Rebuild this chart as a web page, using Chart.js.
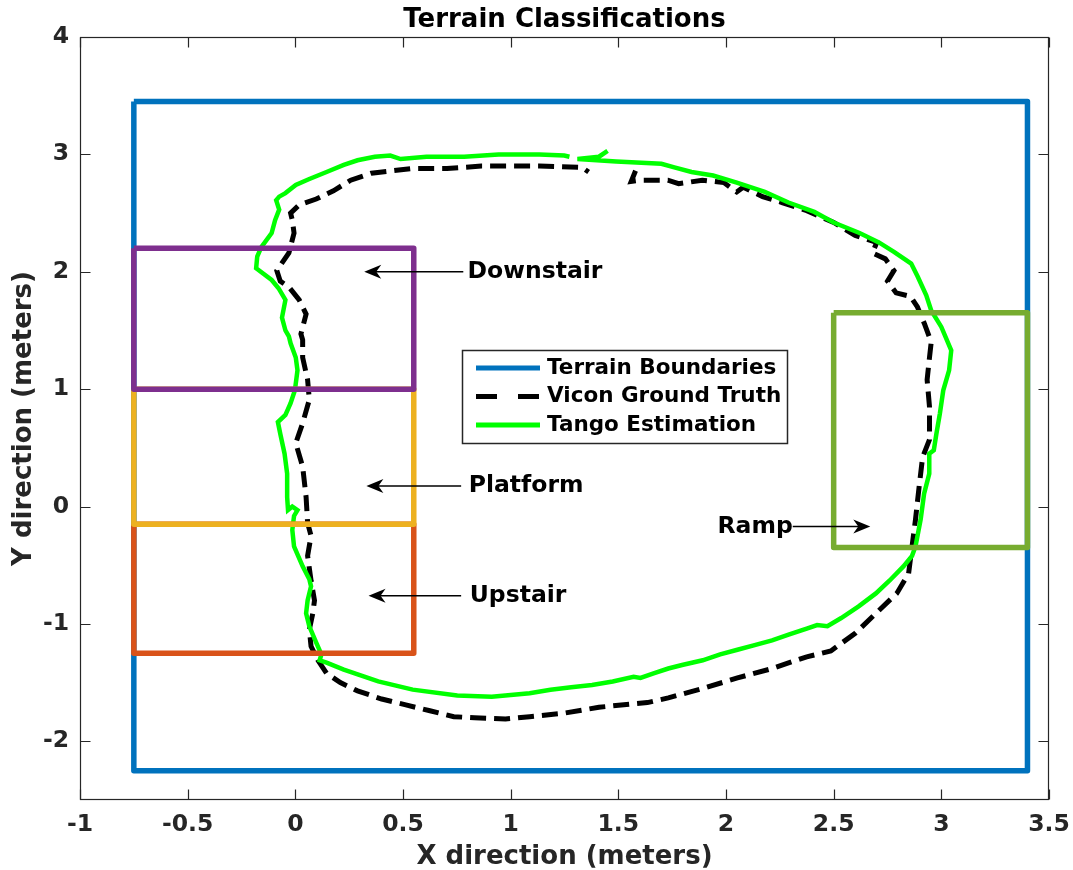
<!DOCTYPE html>
<html>
<head>
<meta charset="utf-8">
<title>Terrain Classifications</title>
<script src="https://cdn.jsdelivr.net/npm/chart.js@4.4.0/dist/chart.umd.min.js"></script>
<style>
  html, body { margin: 0; padding: 0; background: #fff; }
  #wrap { width: 1073px; height: 870px; }
</style>
</head>
<body>
<div id="wrap"><canvas id="terrainChart" width="1073" height="870"></canvas></div>
<script>
// —— axis ticks ——
const xTicks = [-1, -0.5, 0, 0.5, 1, 1.5, 2, 2.5, 3, 3.5];
const yTicks = [-2, -1, 0, 1, 2, 3, 4];

// —— terrain boxes: [xMin, xMax, yMin, yMax] in meters ——
const boundaryBox  = [-0.75, 3.4, -2.25, 3.45];
const downstairBox = [-0.75, 0.55, 1.0, 2.2];
const platformBox  = [-0.75, 0.55, -0.15, 1.0];
const upstairBox   = [-0.75, 0.55, -1.25, -0.15];
const rampBox      = [2.5, 3.4, -0.35, 1.65];

// —— Tango estimation ——
const tangoX = [1.45, 1.41, 1.31, 1.49, 1.70, 1.76, 1.84, 1.94, 2.05, 2.18, 2.29, 2.41, 2.50, 2.62, 2.71, 2.78, 2.86, 2.89, 2.93,
  2.953, 3.00, 3.046, 3.036, 3.009, 2.993, 2.977, 2.965, 2.944, 2.944, 2.92, 2.904, 2.88, 2.864, 2.824, 2.76, 2.696, 2.616, 2.535,
  2.471, 2.423, 2.375, 2.294, 2.214, 2.133, 2.053, 1.973, 1.892, 1.796, 1.732, 1.667, 1.603, 1.571, 1.474, 1.378, 1.281, 1.185,
  1.088, 0.912, 0.752, 0.545, 0.385, 0.225, 0.145, 0.113, 0.121, 0.097, 0.065, 0.05, 0.057, 0.073, 0.065, 0.034, -0.006, -0.014,
  -0.006, 0.010, -0.014, -0.034, -0.038, -0.038, -0.050, -0.070, -0.081, -0.046, -0.022, -0.002, 0.010, 0.002, -0.022, -0.030,
  -0.046, -0.062, -0.046, -0.078, -0.110, -0.182, -0.177, -0.158, -0.110, -0.094, -0.075, -0.089, -0.075, -0.046, 0.002, 0.065,
  0.145, 0.225, 0.289, 0.369, 0.441, 0.489, 0.609, 0.784, 0.944, 1.133, 1.249, 1.273];
const tangoY = [3.03, 2.98, 2.96, 2.94, 2.92, 2.89, 2.85, 2.82, 2.76, 2.68, 2.59, 2.51, 2.42, 2.33, 2.25, 2.17, 2.07, 1.96, 1.80,
  1.67, 1.53, 1.33, 1.16, 0.99, 0.79, 0.62, 0.48, 0.45, 0.28, 0.11, -0.11, -0.34, -0.42, -0.51, -0.63, -0.74, -0.85, -0.95,
  -1.02, -1.01, -1.04, -1.09, -1.14, -1.18, -1.22, -1.26, -1.31, -1.35, -1.38, -1.42, -1.46, -1.45, -1.49, -1.52, -1.54, -1.56,
  -1.59, -1.62, -1.61, -1.56, -1.49, -1.39, -1.33, -1.31, -1.26, -1.16, -1.02, -0.91, -0.80, -0.68, -0.62, -0.51, -0.34, -0.20,
  -0.08, -0.03, 0.00, -0.03, 0.08, 0.28, 0.45, 0.62, 0.72, 0.78, 0.88, 0.99, 1.16, 1.27, 1.39, 1.45,
  1.50, 1.61, 1.76, 1.86, 1.93, 2.03, 2.13, 2.21, 2.33, 2.44, 2.53, 2.61, 2.64, 2.67, 2.74, 2.79,
  2.85, 2.91, 2.95, 2.98, 2.99, 2.96, 2.98, 2.98, 3.00, 3.00, 2.99, 2.98];

// —— Vicon ground truth ——
const viconX = [1.58, 1.56, 1.60, 1.73, 1.78, 1.89, 1.99, 2.05, 2.08, 2.17, 2.26, 2.375, 2.50, 2.60, 2.70, 2.68, 2.74, 2.78, 2.75,
  2.79, 2.857, 2.889, 2.921, 2.953, 2.945, 2.934, 2.945, 2.945, 2.913, 2.897, 2.88, 2.864, 2.848, 2.793, 2.696, 2.60, 2.487,
  2.375, 2.214, 2.053, 1.892, 1.732, 1.635, 1.571, 1.41, 1.249, 1.088, 0.976, 0.832, 0.736, 0.625, 0.513, 0.401, 0.289, 0.209,
  0.145, 0.105, 0.073, 0.065, 0.081, 0.089, 0.073, 0.057, 0.073, 0.057, 0.050, 0.034, 0.002, 0.034, 0.065, 0.057, 0.034, 0.034,
  0.026, 0.050, 0.018, -0.030, -0.070, -0.086, -0.030, -0.006, -0.014, -0.022, 0.018, 0.097, 0.177, 0.257, 0.353, 0.449, 0.545,
  0.704, 0.864, 1.133, 1.33, 1.362];
const viconY = [2.86, 2.77, 2.78, 2.78, 2.75, 2.78, 2.76, 2.68, 2.72, 2.64, 2.59, 2.52, 2.42, 2.31, 2.25, 2.16, 2.11, 2.01, 1.92,
  1.82, 1.79, 1.70, 1.56, 1.40, 1.27, 1.08, 0.85, 0.57, 0.42, 0.17, -0.11, -0.34, -0.57, -0.74, -0.91, -1.08, -1.23,
  -1.28, -1.38, -1.46, -1.55, -1.63, -1.67, -1.68, -1.71, -1.76, -1.79, -1.81, -1.80, -1.79, -1.74, -1.69, -1.64, -1.57, -1.50,
  -1.42, -1.31, -1.19, -1.05, -0.91, -0.80, -0.63, -0.42, -0.25, -0.14, 0.08, 0.34, 0.54, 0.71, 0.91, 1.08, 1.27, 1.42,
  1.47, 1.64, 1.76, 1.87, 1.92, 2.01, 2.16, 2.33, 2.44, 2.50, 2.57, 2.62, 2.69, 2.78, 2.84, 2.86, 2.88,
  2.88, 2.90, 2.90, 2.89, 2.85];

// —— text annotations with arrows (meters) ——
const noteLabels = ['Downstair', 'Platform', 'Upstair', 'Ramp'];
const noteY      = [2.0, 0.175, -0.76, -0.17];
const noteTextX  = [0.80, 0.805, 0.81, 2.31];
const arrowFromX = [0.78, 0.77, 0.77, 2.31];
const arrowToX   = [0.32, 0.33, 0.34, 2.67];

const FONT = "'DejaVu Sans', 'Liberation Sans', sans-serif";
const AXIS_COLOR = '#262626';

function boxPoints(b) {
  return [
    {x: b[0], y: b[3]}, {x: b[1], y: b[3]}, {x: b[1], y: b[2]},
    {x: b[0], y: b[2]}, {x: b[0], y: b[3]}
  ];
}
function zipPoints(xs, ys) {
  return xs.map((x, i) => ({x, y: ys[i]}));
}

function boxDataset(label, box, color, order) {
  return {
    label, data: boxPoints(box), showLine: true, borderColor: color,
    borderWidth: 5.5, pointRadius: 0, borderJoinStyle: 'round', order, fill: false
  };
}

const datasets = [
  Object.assign(boxDataset('Terrain Boundaries', boundaryBox, '#0072BD', 8), { legend: true }),
  {
    label: 'Vicon Ground Truth', data: zipPoints(viconX, viconY), showLine: true,
    borderColor: '#000000', borderWidth: 5, borderDash: [16, 8], pointRadius: 0,
    order: 6, legend: true, legendDash: [21, 21]
  },
  {
    label: 'Tango Estimation', data: zipPoints(tangoX, tangoY), showLine: true,
    borderColor: '#00FF00', borderWidth: 4.5, pointRadius: 0, order: 5, legend: true
  },
  boxDataset('Upstair', upstairBox, '#D95319', 3),
  boxDataset('Platform', platformBox, '#EDB120', 2),
  boxDataset('Downstair', downstairBox, '#7E2F8E', 1),
  boxDataset('Ramp', rampBox, '#77AC30', 0)
];

function drawArrow(ctx, x1, y, x2) {
  const dir = x2 < x1 ? 1 : -1; // head points toward x2
  ctx.beginPath();
  ctx.moveTo(x1, y);
  ctx.lineTo(x2 + dir * 10, y);
  ctx.lineWidth = 1.3;
  ctx.stroke();
  ctx.beginPath();
  ctx.moveTo(x2, y);
  ctx.lineTo(x2 + dir * 17, y - 7);
  ctx.lineTo(x2 + dir * 12, y);
  ctx.lineTo(x2 + dir * 17, y + 7);
  ctx.closePath();
  ctx.fill();
}

const framePlugin = {
  id: 'frame',
  afterDatasetsDraw(chart) {
    const {ctx, chartArea: a, scales: {x, y}} = chart;
    ctx.save();
    // annotations
    ctx.fillStyle = '#000';
    ctx.strokeStyle = '#000';
    ctx.font = 'bold 23.5px ' + FONT;
    ctx.textBaseline = 'middle';
    noteLabels.forEach((txt, i) => {
      const py = y.getPixelForValue(noteY[i]);
      const tx = x.getPixelForValue(noteTextX[i]);
      ctx.textAlign = arrowToX[i] > noteTextX[i] ? 'right' : 'left';
      ctx.fillText(txt, tx, py);
      drawArrow(ctx, x.getPixelForValue(arrowFromX[i]), py, x.getPixelForValue(arrowToX[i]));
    });

    // legend box
    const lx = 462, ly = 350, lw = 325, lh = 93;
    ctx.fillStyle = '#fff';
    ctx.fillRect(lx, ly, lw, lh);
    ctx.strokeStyle = AXIS_COLOR;
    ctx.lineWidth = 1.5;
    ctx.strokeRect(lx + 0.5, ly + 0.5, lw, lh);
    const rows = chart.data.datasets.filter(d => d.legend);
    ctx.font = 'bold 21.5px ' + FONT;
    ctx.textAlign = 'left';
    rows.forEach((d, i) => {
      const ry = ly + 18 + i * 28.5;
      ctx.beginPath();
      ctx.setLineDash(d.legendDash || []);
      ctx.strokeStyle = d.borderColor;
      ctx.lineWidth = 5;
      ctx.moveTo(476, ry);
      ctx.lineTo(540, ry);
      ctx.stroke();
      ctx.setLineDash([]);
      ctx.fillStyle = '#000';
      ctx.fillText(d.label, 547, ry);
    });

    // title
    ctx.font = 'bold 26px ' + FONT;
    ctx.textAlign = 'center';
    ctx.textBaseline = 'alphabetic';
    ctx.fillStyle = '#000';
    ctx.fillText('Terrain Classifications', (a.left + a.right) / 2, 27);
    ctx.restore();
  },
  afterDraw(chart) {
    const {ctx, chartArea: a, scales: {x, y}} = chart;
    ctx.save();
    ctx.strokeStyle = AXIS_COLOR;
    ctx.lineWidth = 1.2;
    const L = Math.round(a.left) + 0.5, R = Math.round(a.right) - 0.5;
    const T = Math.round(a.top) + 0.5, B = Math.round(a.bottom) - 0.5;
    ctx.strokeRect(L, T, R - L, B - T);
    ctx.beginPath();
    x.ticks.forEach(t => {
      const px = Math.round(x.getPixelForValue(t.value)) + 0.5;
      ctx.moveTo(px, B); ctx.lineTo(px, B - 10);
      ctx.moveTo(px, T); ctx.lineTo(px, T + 10);
    });
    y.ticks.forEach(t => {
      const py = Math.round(y.getPixelForValue(t.value)) + 0.5;
      ctx.moveTo(L, py); ctx.lineTo(L + 10, py);
      ctx.moveTo(R, py); ctx.lineTo(R - 10, py);
    });
    ctx.stroke();
    ctx.restore();
  }
};

const tickFont = { family: FONT, size: 23.5, weight: 'bold' };
const labelFont = { family: FONT, size: 26, weight: 'bold', lineHeight: 1 };

new Chart(document.getElementById('terrainChart'), {
  type: 'scatter',
  data: { datasets },
  options: {
    responsive: false,
    animation: false,
    layout: { padding: { top: 37, right: 24, bottom: 0, left: 0 } },
    plugins: {
      legend: { display: false },
      tooltip: { enabled: false },
      title: { display: false }
    },
    scales: {
      x: {
        type: 'linear', min: -1, max: 3.5,
        afterBuildTicks: s => { s.ticks = xTicks.map(v => ({ value: v })); },
        afterFit: s => { s.height = 70; s.paddingLeft = 0; s.paddingRight = 0; },
        grid: { display: false, drawTicks: false },
        border: { display: false },
        ticks: {
          color: AXIS_COLOR, font: tickFont, padding: 11,
          maxRotation: 0, autoSkip: false, callback: v => String(v)
        },
        title: {
          display: true, text: 'X direction (meters)', color: AXIS_COLOR,
          font: labelFont, padding: { top: 0, bottom: 0 }
        }
      },
      y: {
        type: 'linear', min: -2.5, max: 4,
        afterBuildTicks: s => { s.ticks = yTicks.map(v => ({ value: v })); },
        afterFit: s => { s.width = 80; s.paddingTop = 0; s.paddingBottom = 0; },
        grid: { display: false, drawTicks: false },
        border: { display: false },
        ticks: {
          color: AXIS_COLOR, font: tickFont, padding: 11,
          autoSkip: false, callback: v => String(v)
        },
        title: {
          display: true, text: 'Y direction (meters)', color: AXIS_COLOR,
          font: labelFont, padding: { top: 11, bottom: 0 }
        }
      }
    }
  },
  plugins: [framePlugin]
});
</script>
</body>
</html>
